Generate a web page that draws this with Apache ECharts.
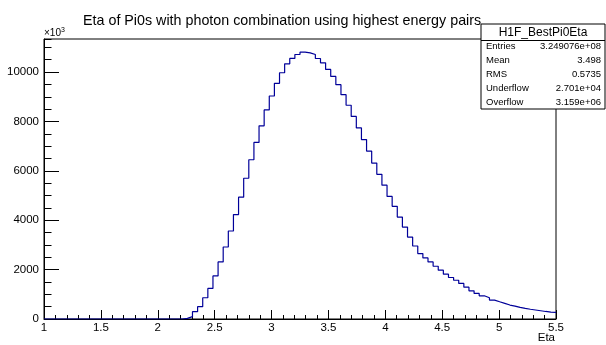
<!DOCTYPE html>
<html>
<head>
<meta charset="utf-8">
<script src="https://cdn.jsdelivr.net/npm/echarts@6/dist/echarts.min.js"></script>
<style>
html,body{margin:0;padding:0;background:#fff;}
#c{width:606px;height:345px;}
</style>
</head>
<body>
<div id="c"></div>
<script>
// ---- data ----
var title = 'Eta of Pi0s with photon combination using highest energy pairs';
var xMin = 1, xMax = 5.5, nBins = 100;
var counts = [
  0,0,0,0,0,0,0,0,0,0,
  0,0,0,0,0,0,0,0,0,0,
  0,0,0,0,0,0,0,25,95,295,
  498,860,1240,1745,2312,2917,3565,4230,4935,5700,
  6450,7150,7823,8468,9032,9543,9973,10336,10552,10712,
  10806,10780,10712,10550,10376,10107,9825,9490,9085,8656,
  8206,7740,7265,6800,6315,5860,5420,4965,4563,4126,
  3722,3319,2956,2648,2473,2312,2137,1976,1815,1680,
  1570,1440,1290,1142,1035,940,860,766,698,632,
  565,524,470,430,395,365,335,305,280,265
];
var yTickLabels = ['0','2000','4000','6000','8000','10000'];
var xTickLabels = ['1','1.5','2','2.5','3','3.5','4','4.5','5','5.5'];
var statsName = 'H1F_BestPi0Eta';
var statsKeys = ['Entries','Mean','RMS','Underflow','Overflow'];
var statsVals = ['3.249076e+08','3.498','0.5735','2.701e+04','3.159e+06'];
var xTitle = 'Eta';
var yExpLabel = '10';
var yExpPow = '3';

// ---- build ----
var bw = (xMax - xMin) / nBins;
var pts = [];
for (var i = 0; i < nBins; i++) pts.push([xMin + i * bw, counts[i]]);
pts.push([xMax, counts[nBins - 1]]);
var yMax = 11340;

var font = 'Liberation Sans, Arial, Helvetica, sans-serif';
var chart = echarts.init(document.getElementById('c'), null, {renderer: 'canvas'});

var grid = {left: 44, right: 50, top: 39, bottom: 26, show: true, borderColor: '#000', borderWidth: 1, backgroundColor: 'transparent'};

var statsGraphics = [];
var bx = 481, by = 24, bwid = 124, bh = 85;
statsGraphics.push({type: 'rect', shape: {x: bx, y: by, width: bwid, height: bh}, style: {fill: '#fff', stroke: '#000', lineWidth: 1}, z: 100});
statsGraphics.push({type: 'line', shape: {x1: bx, y1: 40.5, x2: bx + bwid, y2: 40.5}, style: {stroke: '#000', lineWidth: 1}, z: 101});
statsGraphics.push({type: 'text', x: bx + bwid / 2, y: 32.5, style: {text: statsName, font: '12px ' + font, fill: '#000', align: 'center', verticalAlign: 'middle'}, z: 102});
var rowY = [46, 60, 74, 88, 102];
for (var k = 0; k < statsKeys.length; k++) {
  statsGraphics.push({type: 'text', x: 486, y: rowY[k], style: {text: statsKeys[k], font: '9.5px ' + font, fill: '#000', align: 'left', verticalAlign: 'middle'}, z: 102});
  statsGraphics.push({type: 'text', x: 601, y: rowY[k], style: {text: statsVals[k], font: '9.5px ' + font, fill: '#000', align: 'right', verticalAlign: 'middle'}, z: 102});
}

var option = {
  animation: false,
  backgroundColor: '#fff',
  title: {text: title, left: 78, top: 9, textStyle: {fontFamily: font, fontSize: 14.3, fontWeight: 'normal', color: '#000'}},
  grid: grid,
  xAxis: [{
    type: 'value', min: xMin, max: xMax, interval: 0.5,
    axisLine: {show: true, onZero: false, lineStyle: {color: '#000', width: 1}},
    axisTick: {show: true, inside: true, length: 9, lineStyle: {color: '#000'}},
    minorTick: {show: true, splitNumber: 5, length: 4, lineStyle: {color: '#000'}},
    axisLabel: {color: '#000', fontFamily: font, fontSize: 11.5, margin: 3,
      formatter: function (v) { var idx = Math.round((v - xMin) / 0.5); return xTickLabels[idx] !== undefined ? xTickLabels[idx] : ''; }},
    splitLine: {show: false}, minorSplitLine: {show: false}
  }],
  yAxis: [{
    type: 'value', min: 0, max: yMax, interval: 2000,
    axisLine: {show: true, lineStyle: {color: '#000', width: 1}},
    axisTick: {show: true, inside: true, length: 15, lineStyle: {color: '#000'}},
    axisLabel: {color: '#000', fontFamily: font, fontSize: 11.5, margin: 5, showMaxLabel: false,
      formatter: function (v) { var idx = Math.round(v / 2000); return (Math.abs(v - idx * 2000) < 1 && yTickLabels[idx]) ? yTickLabels[idx] : ''; }},
    splitLine: {show: false}
  }, {
    type: 'value', min: 0, max: yMax, interval: 500, position: 'left', offset: 0,
    axisLine: {show: false},
    axisTick: {show: true, inside: true, length: 7.5, lineStyle: {color: '#000'}},
    axisLabel: {show: false},
    splitLine: {show: false}
  }],
  graphic: [
    {type: 'text', x: 44, y: 27, style: {rich: {a: {font: '10px ' + font, fill: '#000'}, b: {font: '7px ' + font, fill: '#000', verticalAlign: 'top', padding: [0, 0, 5, 0]}}, text: '{a|\u00d7' + yExpLabel + '}{b|' + yExpPow + '}', fill: '#000'}},
    {type: 'text', x: 555, y: 332, style: {text: xTitle, font: '11.5px ' + font, fill: '#000', align: 'right', verticalAlign: 'top'}}
  ].concat(statsGraphics),
  series: [{
    type: 'line', step: 'end', data: pts, showSymbol: false, symbol: 'none',
    xAxisIndex: 0, yAxisIndex: 0,
    lineStyle: {color: '#000099', width: 1.2}, z: 5
  }]
};
chart.setOption(option);
</script>
</body>
</html>
